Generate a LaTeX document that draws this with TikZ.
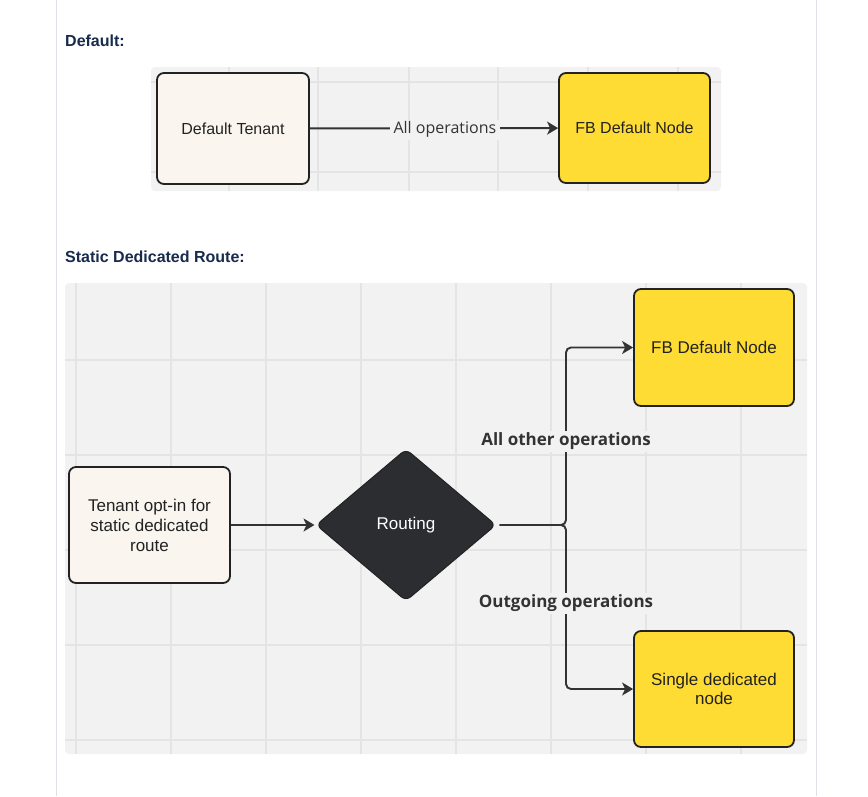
\documentclass[tikz,border=0pt]{standalone}
\usepackage{fontspec}
\setmainfont{Liberation Sans}
\newfontfamily\opensans{Open Sans}
\usetikzlibrary{shapes.geometric,arrows.meta}
\definecolor{sideline}{HTML}{DFE1E6}
\definecolor{panel}{HTML}{F2F2F2}
\definecolor{gridc}{HTML}{E4E4E4}
\definecolor{cream}{HTML}{FAF6EF}
\definecolor{yel}{HTML}{FFDC34}
\definecolor{edge}{HTML}{222222}
\definecolor{conncol}{HTML}{333333}
\definecolor{head}{HTML}{172B4D}
\definecolor{dia}{HTML}{2B2D31}
\begin{document}
\begin{tikzpicture}[x=1pt,y=-1pt,
 box/.style={draw=edge, line width=1.8pt, rounded corners=7pt, align=center,
   font=\fontsize{16}{19.5}\selectfont, text=edge, inner sep=0pt},
 bigbox/.style={font=\fontsize{17}{20}\selectfont},
 tenant/.style={box, fill=cream},
 target/.style={box, fill=yel},
 conn/.style={draw=conncol, line width=1.9pt, -{Stealth[length=11pt,width=13pt,inset=3pt]}},
 lbl/.style={fill=panel, text=conncol, inner xsep=4pt, inner ysep=2pt,
   font=\opensans\fontsize{16}{19}\selectfont},
 blbl/.style={lbl, font=\opensans\bfseries\fontsize{17}{20}\selectfont},
 heading/.style={anchor=base west, text=head, inner sep=0pt,
   font=\bfseries\fontsize{16}{19}\selectfont},
 gridline/.style={draw=gridc, line width=1.2pt},
]
\useasboundingbox (0,0) rectangle (868,796);
\fill[white] (0,0) rectangle (868,796);
% page side lines
\draw[sideline, line width=1pt] (56,0) -- (56,796);
\draw[sideline, line width=1pt] (816,0) -- (816,796);

% headings
\node[heading] (h1) at (65,46.5) {Default:};
\node[heading] (h2) at (65,262) {Static Dedicated Route:};

% top panel
\fill[panel, rounded corners=4pt] (151,67) rectangle (721,191);
\begin{scope}
\clip (151,67) rectangle (721,191);
\foreach \x in {229,318,409,498,588,678} \draw[gridline] (\x,67) -- (\x,191);
\foreach \y in {82,172} \draw[gridline] (151,\y) -- (721,\y);
\end{scope}

% bottom panel
\fill[panel, rounded corners=4pt] (65,283) rectangle (807,754);
\begin{scope}
\clip (65,283) rectangle (807,754);
\foreach \x in {76,171,266,361,456,551,646,741} \draw[gridline] (\x,283) -- (\x,754);
\foreach \y in {360,455,550,645,740} \draw[gridline] (65,\y) -- (807,\y);
\end{scope}

% top diagram
\node[tenant, minimum width=152pt, minimum height=111pt] (dt) at (233,128.5) {Default Tenant};
\node[target, minimum width=151pt, minimum height=110pt] (fb1) at (634.5,128) {FB Default Node};
\draw[conn] (dt) -- node[lbl, pos=0.544, yshift=-1.5pt] (allops) {All operations} (fb1);

% bottom diagram
\node[tenant, bigbox, minimum width=161pt, minimum height=116pt] (opt) at (149.5,525) {Tenant opt-in for\\static dedicated\\route};
\node[diamond, fill=dia, draw=edge, line width=1pt, rounded corners=6pt,
  minimum width=180pt, minimum height=152pt, inner sep=0pt, text=white,
  font=\fontsize{17}{20}\selectfont] (route) at (406,525) {Routing};
\node[target, bigbox, minimum width=160pt, minimum height=117pt] (fb2) at (714,347.5) {FB Default Node};
\node[target, minimum width=160pt, minimum height=116pt,
  font=\fontsize{17}{19.5}\selectfont] (single) at (714,689) {Single dedicated\\node};

\draw[conn, shorten >=1pt] (opt) -- (route);
\coordinate (j) at (566,525);
\draw[conn, rounded corners=5pt, shorten <=3pt] (route.east) -- (j) |- (fb2.west);
\draw[conn, rounded corners=5pt, shorten <=3pt] (route.east) -- (j) |- (single.west);

\node[blbl] (other) at (566,441) {All other operations};
\node[blbl] (outgoing) at (566,603) {Outgoing operations};
\end{tikzpicture}
\end{document}
